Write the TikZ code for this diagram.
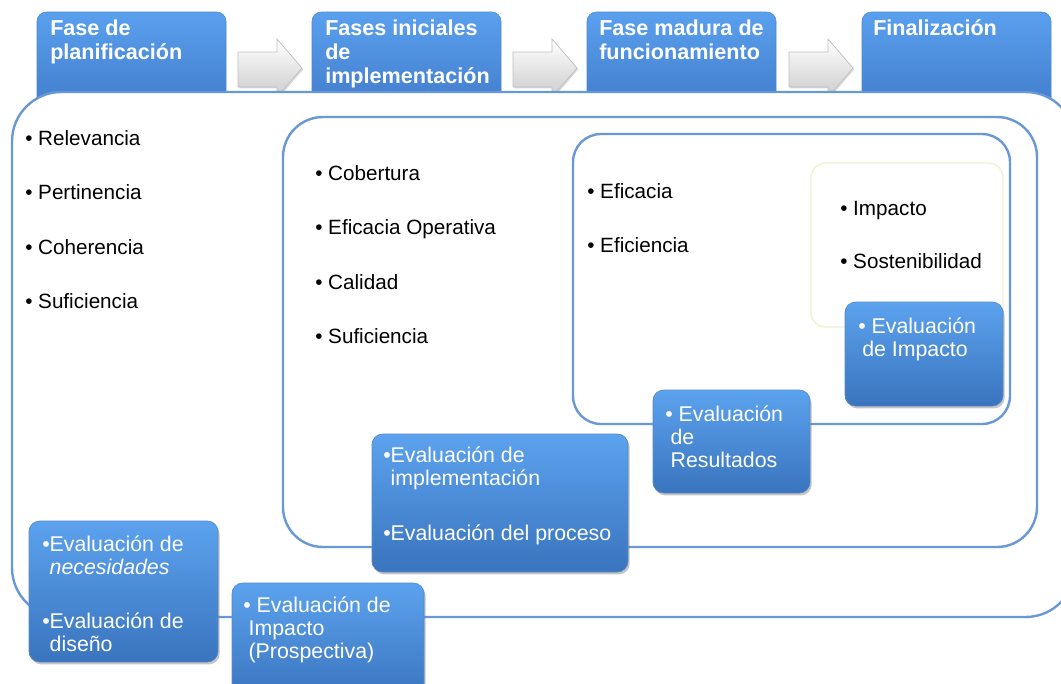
\documentclass[tikz,border=0pt]{standalone}
\usepackage{fontspec}
\setmainfont{Liberation Sans}
\usepackage{tikz}
\usetikzlibrary{shadows}

\definecolor{lineblue}{RGB}{104,152,214}
\definecolor{boxtop}{RGB}{92,162,238}
\definecolor{boxbot}{RGB}{58,116,190}
\definecolor{tabtop}{RGB}{90,160,238}
\definecolor{tabbot}{RGB}{60,116,196}
\definecolor{paleyellow}{RGB}{242,242,208}

\begin{document}
\begin{tikzpicture}[x=0.75pt,y=0.75pt,yscale=-1,xscale=1,
  frame/.style={draw=lineblue,line width=1.8pt,fill=white},
  phasetab/.style={rounded corners=7pt,top color=tabtop,bottom color=tabbot,draw=tabtop!85!black,line width=0.4pt},
  phasearrow/.style={top color=white,bottom color=gray!40,draw=gray!50,line width=0.5pt,drop shadow={opacity=0.3,shadow xshift=1pt,shadow yshift=-1pt}},
  evalbox/.style={rounded corners=8pt,top color=boxtop,bottom color=boxbot,draw=boxbot!85!white,line width=0.5pt,drop shadow={opacity=0.45,shadow xshift=1.2pt,shadow yshift=-1.8pt}},
  phasetxt/.style={anchor=base west,inner sep=0pt,align=left,text=white,font=\fontsize{16.2}{18}\selectfont\bfseries},
  critxt/.style={anchor=base west,inner sep=0pt,font=\fontsize{15.5}{18}\selectfont},
  evaltxt/.style={anchor=base west,inner sep=0pt,align=left,text=white,font=\fontsize{16}{17}\selectfont}]
\useasboundingbox (0,0) rectangle (1061,683);

%Phase tabs
\foreach \x in {37,312,587,862}
  \draw [phasetab] (\x,12) rectangle ++(189,120) ;
%Block arrows between tabs
\foreach \x in {238,513,789}
  \draw [phasearrow] (\x,52) -- ++(39,0) -- ++(0,-13) -- ++(25,29) -- ++(-25,29) -- ++(0,-10) -- ++(-39,0) -- cycle ;

%Rounded Rect (outer frame)
\draw [frame, rounded corners=37pt] (12,92) rectangle (1075,617) ;
%Rounded Rect
\draw [frame, rounded corners=30pt] (283,117) rectangle (1037,547) ;
%Rounded Rect
\draw [frame, rounded corners=21pt] (573,134) rectangle (1010,424) ;
%Rounded Rect
\draw [draw=paleyellow, line width=1.1pt, fill=white, rounded corners=11pt] (811,163) rectangle (1003,327) ;

% Text Node (base = last line)
\draw (50,59) node (planif) [phasetxt] {Fase de\\planificación};
% Text Node
\draw (325,83) node (inicial) [phasetxt] {Fases iniciales\\de\\implementación};
% Text Node
\draw (599,59) node (madura) [phasetxt] {Fase madura de\\funcionamiento};
% Text Node
\draw (873,35) node (final) [phasetxt] {Finalización};

% Text Node
\draw (25,145) node (relev) [critxt] {\textbullet\ Relevancia};
\draw (25,199.5) node (pert) [critxt] {\textbullet\ Pertinencia};
\draw (25,254) node (coher) [critxt] {\textbullet\ Coherencia};
\draw (25,308.5) node (sufa) [critxt] {\textbullet\ Suficiencia};
% Text Node
\draw (315,180) node (cobert) [critxt] {\textbullet\ Cobertura};
\draw (315,234.5) node (efop) [critxt] {\textbullet\ Eficacia Operativa};
\draw (315,289) node (calid) [critxt] {\textbullet\ Calidad};
\draw (315,343.5) node (sufb) [critxt] {\textbullet\ Suficiencia};
% Text Node
\draw (587,198) node (efica) [critxt] {\textbullet\ Eficacia};
\draw (587,252) node (efici) [critxt] {\textbullet\ Eficiencia};
% Text Node
\draw (840,215) node (impac) [critxt] {\textbullet\ Impacto};
\draw (840,268) node (soste) [critxt] {\textbullet\ Sostenibilidad};

%Evaluation boxes
\draw [evalbox] (845,302) rectangle (1003,406) ;
\draw [evalbox] (653,390) rectangle (810,493) ;
\draw [evalbox] (372,434) rectangle (628,572) ;
\draw [evalbox] (29,521) rectangle (218,662) ;
\draw [evalbox] (232,583) rectangle (424,700) ;

% Text Node
\draw (858,356) node (evimp) [evaltxt] {\textbullet\ Evaluación\\\hspace*{3pt}de Impacto};
% Text Node
\draw (665,467) node (evres) [evaltxt] {\textbullet\ Evaluación\\\hspace*{4pt}de\\\hspace*{4pt}Resultados};
% Text Node
\draw (383,485) node (evimpl) [evaltxt] {\textbullet Evaluación de\\\phantom{\textbullet}implementación};
\draw (383,540) node (evproc) [evaltxt] {\textbullet Evaluación del proceso};
% Text Node
\draw (42,574) node (evnec) [evaltxt] {\textbullet Evaluación de\\\phantom{\textbullet}\textit{necesidades}};
\draw (42,651) node (evdis) [evaltxt] {\textbullet Evaluación de\\\phantom{\textbullet}diseño};
% Text Node
\draw (243,658) node (evpros) [evaltxt] {\textbullet\ Evaluación de\\\hspace*{4pt}Impacto\\\hspace*{4pt}(Prospectiva)};

\end{tikzpicture}
\end{document}
